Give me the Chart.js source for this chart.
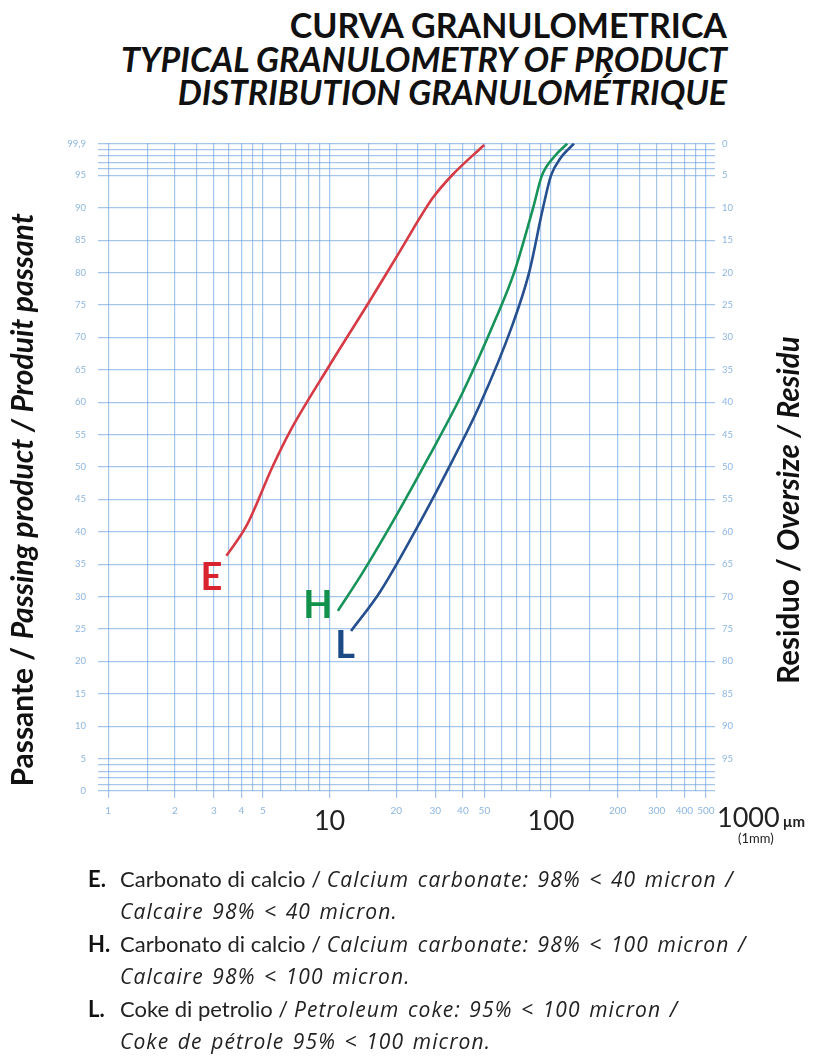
<!DOCTYPE html>
<html>
<head>
<meta charset="utf-8">
<script src="https://cdn.jsdelivr.net/npm/chart.js@4.4.1/dist/chart.umd.min.js"></script>
<style>
  body { margin: 0; background: #fff; width: 816px; height: 1059px; position: relative; overflow: hidden; font-family: Lato, "Open Sans", sans-serif; }
  #title { position: absolute; right: 89px; top: 8px; text-align: right; font-weight: bold; font-size: 34px; line-height: 33.5px; color: #111; }
  #title .it { font-style: italic; }
  #chart { position: absolute; left: 0; top: 0; }
  #notes { position: absolute; left: 88px; top: 863px; font-size: 22px; line-height: 32px; color: #222; }
  #notes .item { position: relative; padding-left: 32px; height: 65px; }
  #notes .item b { position: absolute; left: 0; top: 0; color: #111; }
  #notes i { font-family: "Open Sans", sans-serif; font-style: italic; font-size: 21px; line-height: 1; font-weight: 400; letter-spacing: 1.1px; word-spacing: 2px; }
</style>
</head>
<body>
<div id="title">
  <div>CURVA GRANULOMETRICA</div>
  <div class="it">TYPICAL GRANULOMETRY OF PRODUCT</div>
  <div class="it">DISTRIBUTION GRANULOMÉTRIQUE</div>
</div>
<canvas id="chart" width="816" height="870"></canvas>
<div id="notes">
  <div class="item"><b>E.</b>Carbonato di calcio / <i>Calcium carbonate: 98% &lt; 40 micron /<br>Calcaire 98% &lt; 40 micron.</i></div>
  <div class="item"><b>H.</b>Carbonato di calcio / <i>Calcium carbonate: 98% &lt; 100 micron /<br>Calcaire 98% &lt; 100 micron.</i></div>
  <div class="item"><b>L.</b>Coke di petrolio / <i>Petroleum coke: 95% &lt; 100 micron /<br>Coke de pétrole 95% &lt; 100 micron.</i></div>
</div>
<script>
// particle size (µm) and % passing
const sizesE = [3.42, 4.21, 5.55, 6.6, 10, 15.1, 20.7, 29.2, 35.9, 49.9];
const passE  = [36.3, 40.9, 50.2, 55.4, 65.7, 75.5, 83.2, 91.5, 95.1, 99.7];
const sizesH = [10.9, 14.1, 20, 28.2, 39.9, 56.3, 68.1, 83, 91, 104, 118.4];
const passH  = [27.8, 33.7, 42.5, 51.7, 61.5, 72.9, 80, 90, 95, 98, 99.9];
const sizesL = [12.5, 16.8, 23.7, 33.6, 47.4, 66.9, 79.6, 92, 100, 110, 126.9];
const passL  = [24.7, 30.6, 39.4, 49.1, 59.4, 71.9, 80, 90, 95, 97.6, 99.9];

const seriesNames = ["E", "H", "L"];

// tick labels
const xSmallLabels = [1, 2, 3, 4, 5, 20, 30, 40, 50, 200, 300, 400, 500];
const xBigLabels = [10, 100];
const yLeftLabels = [0, 5, 10, 15, 20, 25, 30, 35, 40, 45, 50, 55, 60, 65, 70, 75, 80, 85, 90, 95, 99.9];
const yRightLabels = [0, 5, 10, 15, 20, 25, 30, 35, 40, 45, 50, 55, 60, 65, 70, 75, 80, 85, 90, 95]; // residue

// grid
const gridMantissas = [1, 1.5, 2, 2.5, 3, 3.5, 4, 4.5, 5, 6, 7, 8, 9];
const gridDecades = [1, 10, 100];
const xGrid = [];
gridDecades.forEach(d => gridMantissas.forEach(m => { if (m * d <= 500) xGrid.push(+(m * d).toFixed(2)); }));
const yGrid = [0, 1, 2, 3, 4, 5, 10, 15, 20, 25, 30, 35, 40, 45, 50, 55, 60, 65, 70, 75, 80, 85, 90, 95, 96, 97, 98, 99, 99.9];

const lineColors = ["#d63a44", "#17935a", "#254f8f"];
const letterColors = ["#d8232e", "#11914a", "#1b4a86"];
const gridColor = "rgba(105,160,220,0.6)";
const tickBlue = "#8db6e0";

const toPoints = (xs, ys) => xs.map((x, i) => ({ x: x, y: ys[i] }));

const decor = {
  id: "decor",
  afterDatasetsDraw(chart) {
    const ctx = chart.ctx;
    const area = chart.chartArea;
    // curve letters next to the start of each curve
    const offs = [[-15, 22], [-20, -5], [-6, 15]];
    ctx.save();
    ctx.font = "bold 38px Lato";
    ctx.textAlign = "center";
    ctx.textBaseline = "middle";
    chart.data.datasets.forEach((ds, i) => {
      const p = chart.getDatasetMeta(i).data[0];
      ctx.fillStyle = letterColors[i];
      ctx.fillText(seriesNames[i], p.x + offs[i][0], p.y + offs[i][1]);
    });
    ctx.restore();

    // axis titles (mixed styles)
    const vTitle = (cx, cy, parts) => {
      ctx.save();
      ctx.translate(cx, cy);
      ctx.rotate(-Math.PI / 2);
      ctx.textBaseline = "middle";
      ctx.textAlign = "left";
      ctx.fillStyle = "#111";
      let total = 0;
      parts.forEach(p => { ctx.font = p[1]; total += ctx.measureText(p[0]).width; });
      let x = -total / 2;
      parts.forEach(p => { ctx.font = p[1]; ctx.fillText(p[0], x, 0); x += ctx.measureText(p[0]).width; });
      ctx.restore();
    };
    vTitle(23, 500, [["Passante / ", "bold 30px Lato"], ["Passing product / Produit passant", "italic bold 30px Lato"]]);
    vTitle(789, 510, [["Residuo / ", "bold 29.5px Lato"], ["Oversize / Residu", "italic bold 29.5px Lato"]]);

    // "1000 µm (1mm)" at the end of the x axis
    ctx.save();
    ctx.fillStyle = "#222";
    ctx.textBaseline = "alphabetic";
    ctx.textAlign = "left";
    ctx.font = "27px Lato";
    const x0 = area.right + 2;
    ctx.fillText("1000", x0, area.bottom + 36);
    const w = ctx.measureText("1000").width;
    ctx.font = "bold 15px Lato";
    ctx.fillText("µm", x0 + w + 3, area.bottom + 36);
    ctx.font = "13px Lato";
    ctx.fillText("(1mm)", x0 + 21, area.bottom + 52);
    ctx.restore();
  }
};

new Chart(document.getElementById("chart").getContext("2d"), {
  type: "scatter",
  data: {
    datasets: [
      { label: "E", data: toPoints(sizesE, passE), borderColor: lineColors[0] },
      { label: "H", data: toPoints(sizesH, passH), borderColor: lineColors[1] },
      { label: "L", data: toPoints(sizesL, passL), borderColor: lineColors[2] }
    ].map(d => Object.assign(d, { showLine: true, pointRadius: 0, borderWidth: 2.6, cubicInterpolationMode: "monotone", fill: false }))
  },
  options: {
    responsive: false,
    animation: false,
    layout: { padding: { top: 143, left: 0, right: 0, bottom: 0 } },
    plugins: { legend: { display: false }, tooltip: { enabled: false } },
    scales: {
      x: {
        type: "logarithmic",
        min: 0.9,
        max: 550,
        afterBuildTicks: s => { s.ticks = xGrid.map(v => ({ value: v })); },
        afterFit: s => { s.height = 79; },
        border: { display: false },
        grid: {
          color: gridColor,
          lineWidth: 1.2,
          tickLength: 7,
          tickColor: c => (xSmallLabels.includes(c.tick.value) || xBigLabels.includes(c.tick.value)) ? gridColor : "rgba(0,0,0,0)"
        },
        ticks: {
          autoSkip: false,
          maxRotation: 0,
          padding: 7,
          callback: v => (xSmallLabels.includes(v) || xBigLabels.includes(v)) ? String(v) : "",
          font: c => xBigLabels.includes(c.tick.value) ? { family: "Lato", size: 27 } : { family: "Lato", size: 10 },
          color: c => xBigLabels.includes(c.tick.value) ? "#222" : tickBlue
        }
      },
      y: {
        type: "linear",
        position: "left",
        min: 0,
        max: 100,
        afterBuildTicks: s => { s.ticks = yGrid.map(v => ({ value: v })); },
        afterFit: s => { s.width = 98; },
        border: { display: false },
        grid: { color: gridColor, lineWidth: 1.2, drawTicks: false },
        ticks: {
          autoSkip: false,
          padding: 12,
          callback: v => yLeftLabels.includes(v) ? String(v).replace(".", ",") : "",
          font: { family: "Lato", size: 9.5 },
          color: tickBlue
        }
      },
      y2: {
        type: "linear",
        position: "right",
        min: 0,
        max: 100,
        afterBuildTicks: s => { s.ticks = yRightLabels.map(r => ({ value: r === 0 ? 99.9 : 100 - r })); },
        afterFit: s => { s.width = 101; },
        border: { display: false },
        grid: { drawOnChartArea: false, drawTicks: false },
        ticks: {
          autoSkip: false,
          padding: 7,
          callback: v => String(Math.round(100 - v)),
          font: { family: "Lato", size: 9.5 },
          color: tickBlue
        }
      }
    }
  },
  plugins: [decor]
});
</script>
</body>
</html>
